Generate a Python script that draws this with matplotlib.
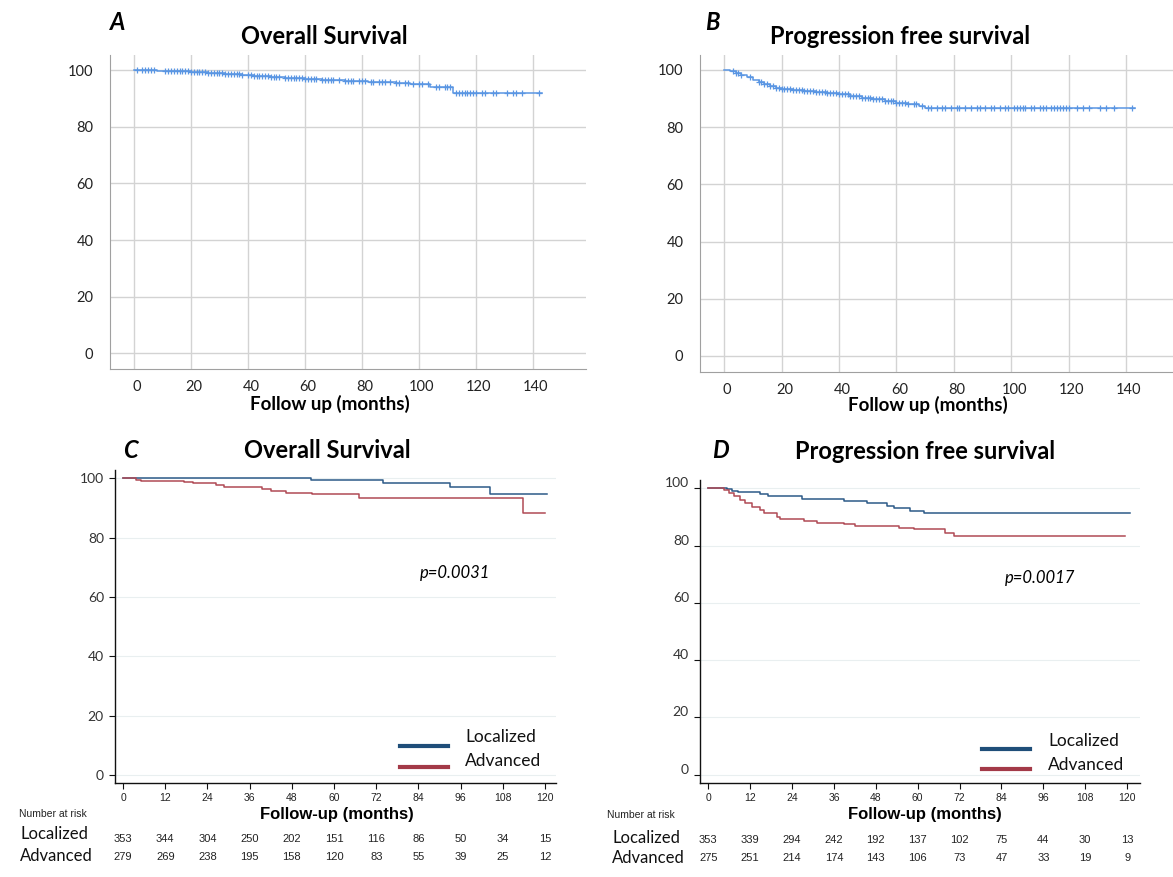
import numpy as np
import matplotlib
matplotlib.use('Agg')
import matplotlib.pyplot as plt
from matplotlib.lines import Line2D
from matplotlib import transforms

plt.rcParams['font.family'] = ['Lato', 'DejaVu Sans']

# ---- data ----
# A: overall survival, all patients (KM steps + censor times)
os_t = [0, 8, 14, 20, 26, 32, 38, 42, 48, 53, 60, 66, 74, 82, 92, 97, 104, 112]
os_s = [100, 99.7, 99.5, 99.2, 98.9, 98.6, 98.3, 97.9, 97.5, 97.1, 96.8, 96.5, 96.0, 95.7, 95.3, 94.9, 93.9, 91.8]
os_end = 143
os_cens = [1, 3, 4, 5, 6, 7, 11, 12, 13, 14, 15, 16, 17, 18, 19, 20, 21, 22, 23, 24, 25, 26,
           27, 28, 29, 30, 31, 32, 33, 34, 35, 36, 37, 38, 40, 41, 42, 43, 44, 45, 46, 47, 48,
           49, 50, 51, 53, 54, 55, 56, 57, 58, 59, 60, 61, 62, 63, 64, 66, 67, 68, 69, 70, 72,
           74, 75, 76, 77, 79, 80, 81, 83, 84, 86, 87, 88, 90, 92, 93, 95, 96, 98, 100, 101,
           103, 106, 107, 109, 110, 111, 113, 114, 115, 116, 117, 118, 119, 120, 122, 123,
           126, 127, 131, 133, 134, 136, 142]

# B: progression free survival, all patients
pfs_t = [0, 2, 4, 6, 8, 10, 12, 14, 16, 18, 20, 24, 28, 32, 36, 40, 44, 48, 52, 56, 60, 64, 68, 70]
pfs_s = [100, 99.6, 99.0, 98.3, 97.5, 96.6, 95.7, 95.0, 94.2, 93.6, 93.2, 92.9, 92.6, 92.2,
         91.8, 91.4, 90.9, 90.3, 89.8, 89.2, 88.5, 87.9, 87.3, 86.7]
pfs_end = 143
pfs_cens = [3, 4, 5, 6, 9, 12, 13, 14, 15, 16, 17, 18, 19, 20, 21, 22, 23, 24, 25, 26, 27, 28,
            29, 30, 31, 32, 33, 34, 35, 36, 37, 38, 39, 40, 41, 42, 43, 44, 45, 46, 47, 48, 49,
            50, 51, 52, 53, 54, 55, 56, 57, 58, 59, 60, 61, 62, 63, 64, 66, 67, 69, 71, 72, 74,
            76, 77, 79, 81, 82, 84, 86, 88, 89, 91, 93, 94, 96, 98, 99, 101, 102, 103, 104, 105,
            107, 108, 110, 111, 112, 114, 115, 116, 117, 118, 119, 120, 123, 125, 127, 131, 133,
            136, 142]

# C: overall survival by stage
c_loc_t = [0, 53.3, 74, 92.9, 104.4]
c_loc_s = [100, 99.4, 98.5, 97.1, 94.7]
c_loc_end = 120.5
c_adv_t = [0, 3.7, 5, 17.3, 20, 26.4, 28.6, 39.6, 42, 46.2, 53.8, 67, 113.6]
c_adv_s = [100, 99.4, 99.1, 98.75, 98.3, 97.7, 97.2, 96.4, 95.8, 95.1, 94.6, 93.5, 88.2]
c_adv_end = 120

# D: progression free survival by stage
d_loc_t = [0, 5.3, 6.8, 8.4, 14.8, 17.2, 26.7, 38.8, 45.5, 51.2, 53.1, 57.9, 61.7]
d_loc_s = [100, 99.65, 99.1, 98.6, 97.9, 97.3, 96.3, 95.6, 94.8, 93.9, 93.0, 92.2, 91.5]
d_loc_end = 120.9
d_adv_t = [0, 4.4, 5.8, 7.3, 9.2, 10.6, 12.5, 14.9, 15.9, 19.7, 20.6, 27.3, 31.1, 38.8, 42.1,
           54.5, 58.8, 67.9, 70.3]
d_adv_s = [100, 99.4, 98.3, 97.4, 95.9, 94.8, 93.6, 92.4, 91.3, 90.1, 89.2, 88.6, 88.0, 87.5,
           87.0, 86.3, 85.7, 84.5, 83.5]
d_adv_end = 119.5

risk_months = [0, 12, 24, 36, 48, 60, 72, 84, 96, 108, 120]
c_risk_loc = [353, 344, 304, 250, 202, 151, 116, 86, 50, 34, 15]
c_risk_adv = [279, 269, 238, 195, 158, 120, 83, 55, 39, 25, 12]
d_risk_loc = [353, 339, 294, 242, 192, 137, 102, 75, 44, 30, 13]
d_risk_adv = [275, 251, 214, 174, 143, 106, 73, 47, 33, 19, 9]

# ---- layout helpers (pixel coords of the 1173x877 canvas) ----
W, H = 1173, 877
fig = plt.figure(figsize=(W / 100, H / 100), dpi=100)


def px_axes(l, t, r, b):
    return fig.add_axes([l / W, 1 - b / H, (r - l) / W, (b - t) / H])


def ftext(x, y, s, **kw):
    fig.text(x / W, 1 - y / H, s, **kw)


def fline(x0, x1, y, **kw):
    fig.add_artist(Line2D([x0 / W, x1 / W], [1 - y / H, 1 - y / H], transform=fig.transFigure, **kw))


def km(ax, t, s, end, **kw):
    ax.step(list(t) + [end], list(s) + [s[-1]], where='post', **kw)


def surv_at(t, s, x):
    idx = np.searchsorted(np.array(t), np.array(x), side='right') - 1
    return np.array(s)[idx]


blue_light = '#5a96e3'
grid_gray = '#d3d3d3'


def top_panel(ax, t, s, end, cens, xlim, ylim):
    km(ax, t, s, end, color=blue_light, lw=1.1)
    ax.plot(cens, surv_at(t, s, cens), '+', color=blue_light, ms=5, mew=0.9)
    ax.set_xlim(*xlim)
    ax.set_ylim(*ylim)
    ax.set_xticks(range(0, 141, 20))
    ax.set_yticks(range(0, 101, 20))
    ax.grid(True, color=grid_gray, lw=1)
    ax.set_axisbelow(True)
    for sp in ['top', 'right']:
        ax.spines[sp].set_visible(False)
    for sp in ['left', 'bottom']:
        ax.spines[sp].set_color('#a0a0a0')
    ax.tick_params(length=0, labelsize=10.5, colors='#222222')
    ax.tick_params(axis='x', pad=8)
    ax.tick_params(axis='y', pad=12)
    for lab in ax.get_xticklabels():
        lab.set_transform(lab.get_transform() + transforms.ScaledTranslation(3 / 100, 0, fig.dpi_scale_trans))


# A
axA = px_axes(110, 55, 586, 369)
top_panel(axA, os_t, os_s, os_end, os_cens, (-8.4, 158.6), (-5.5, 105.3))
ftext(118, 22, 'A', fontsize=17, fontweight='bold', fontstyle='italic', ha='center', va='center')
ftext(324, 37, 'Overall Survival', fontsize=17, fontweight='bold', ha='center', va='center')
ftext(330, 404, 'Follow up (months)', fontsize=13.5, fontweight='bold', ha='center', va='center')

# B
axB = px_axes(700, 55, 1173, 372)
top_panel(axB, pfs_t, pfs_s, pfs_end, pfs_cens, (-8.4, 156.4), (-5.6, 105.2))
ftext(712, 22, 'B', fontsize=17, fontweight='bold', fontstyle='italic', ha='center', va='center')
ftext(900, 37, 'Progression free survival', fontsize=17, fontweight='bold', ha='center', va='center')
ftext(928, 405, 'Follow up (months)', fontsize=13.5, fontweight='bold', ha='center', va='center')

navy = '#2c5a88'
red = '#b04a55'


def bottom_panel(ax, curves, xlim, ylim):
    for t, s, end, col in curves:
        km(ax, t, s, end, color=col, lw=1.1)
    ax.set_xlim(*xlim)
    ax.set_ylim(*ylim)
    ax.set_xticks(risk_months)
    ax.set_yticks(range(0, 101, 20))
    ax.grid(True, axis='y', color='#e9eff0', lw=0.8)
    ax.set_axisbelow(True)
    for sp in ['top', 'right']:
        ax.spines[sp].set_visible(False)
    for sp in ['left', 'bottom']:
        ax.spines[sp].set_color('#111111')
        ax.spines[sp].set_linewidth(1)
    ax.tick_params(length=4, width=0.8, colors='#111111')
    ax.tick_params(axis='y', labelsize=10, labelcolor='#333333', pad=4)
    ax.tick_params(axis='x', labelsize=7.5, labelcolor='#222222', pad=3)
    for lab in ax.get_xticklabels():
        lab.set_fontfamily(['Liberation Sans', 'DejaVu Sans'])


def risk_table(ax, loc, adv, ynum1, ynum2, xlab, ylab1, ylab2, xnar, ynar):
    tr = transforms.blended_transform_factory(ax.transData, fig.transFigure)
    for m, a, b in zip(risk_months, loc, adv):
        ax.text(m, 1 - ynum1 / H, str(a), transform=tr, ha='center', va='center', fontsize=8,
                family=['Liberation Sans', 'DejaVu Sans'], color='#222222')
        ax.text(m, 1 - ynum2 / H, str(b), transform=tr, ha='center', va='center', fontsize=8,
                family=['Liberation Sans', 'DejaVu Sans'], color='#222222')
    ftext(xlab, ylab1, 'Localized', fontsize=12, ha='left', va='center', color='#111111')
    ftext(xlab, ylab2, 'Advanced', fontsize=12, ha='left', va='center', color='#111111')
    ftext(xnar, ynar, 'Number at risk', fontsize=7.5, ha='left', va='center',
          family=['Liberation Sans', 'DejaVu Sans'], color='#222222')


# C
axC = px_axes(115, 470, 556, 783)
bottom_panel(axC, [(c_loc_t, c_loc_s, c_loc_end, navy), (c_adv_t, c_adv_s, c_adv_end, red)],
             (-2.3, 123.1), (-2.7, 102.8))
ftext(130, 450, 'C', fontsize=17, fontweight='bold', fontstyle='italic', ha='center', va='center')
ftext(327, 450, 'Overall Survival', fontsize=17, fontweight='bold', ha='center', va='center')
ftext(455, 573, 'p=0.0031', fontsize=12, fontstyle='italic', ha='center', va='center')
fline(400, 448, 746, color='#1f4e79', lw=3)
fline(400, 448, 767, color='#a33a48', lw=3)
ftext(465, 737, 'Localized', fontsize=12.5, ha='left', va='center', color='#111111')
ftext(465, 761, 'Advanced', fontsize=12.5, ha='left', va='center', color='#111111')
ftext(337, 814, 'Follow-up (months)', fontsize=12, fontweight='bold', ha='center', va='center',
      family=['Liberation Sans', 'DejaVu Sans'])
risk_table(axC, c_risk_loc, c_risk_adv, 839, 857, 20, 834, 856, 19, 814)

# D
axD = px_axes(700, 480, 1140, 783)
bottom_panel(axD, [(d_loc_t, d_loc_s, d_loc_end, navy), (d_adv_t, d_adv_s, d_adv_end, red)],
             (-2.4, 123.7), (-2.9, 102.9))
for lab in axD.get_yticklabels():
    lab.set_transform(lab.get_transform() + transforms.ScaledTranslation(0, 6 / 100, fig.dpi_scale_trans))
ftext(720, 450, 'D', fontsize=17, fontweight='bold', fontstyle='italic', ha='center', va='center')
ftext(925, 452, 'Progression free survival', fontsize=17, fontweight='bold', ha='center', va='center')
ftext(1040, 578, 'p=0.0017', fontsize=12, fontstyle='italic', ha='center', va='center')
fline(982, 1030, 749, color='#1f4e79', lw=3)
fline(982, 1030, 769, color='#a33a48', lw=3)
ftext(1048, 741, 'Localized', fontsize=12.5, ha='left', va='center', color='#111111')
ftext(1048, 765, 'Advanced', fontsize=12.5, ha='left', va='center', color='#111111')
ftext(925, 814, 'Follow-up (months)', fontsize=12, fontweight='bold', ha='center', va='center',
      family=['Liberation Sans', 'DejaVu Sans'])
risk_table(axD, d_risk_loc, d_risk_adv, 840, 858, 612, 838, 858, 607, 815)

fig.savefig('out.png', dpi=100)
